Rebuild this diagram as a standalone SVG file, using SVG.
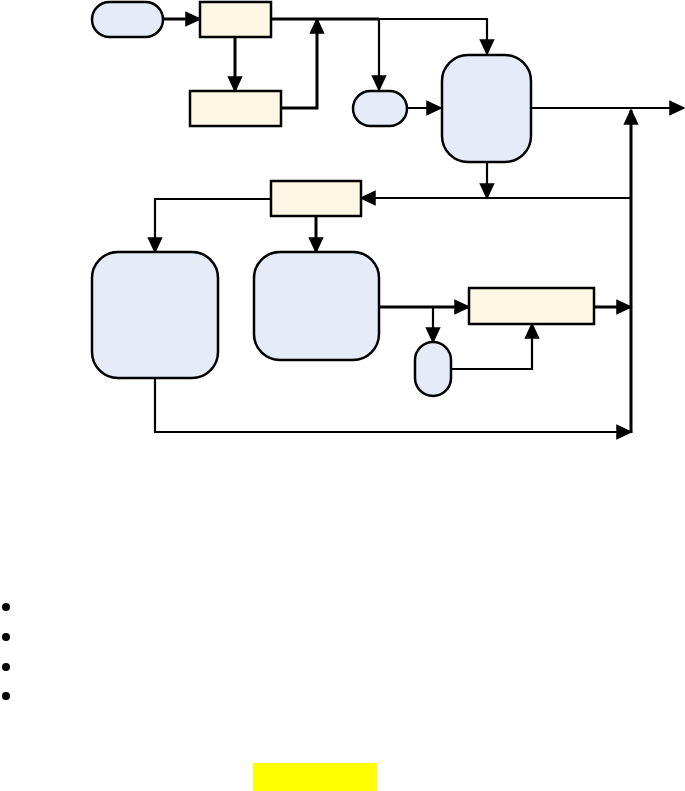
<svg xmlns="http://www.w3.org/2000/svg" width="685" height="791" viewBox="0 0 685 791">
<defs>
<style>
.b{fill:#E5ECF7;stroke:#000;stroke-width:2.5}
.y{fill:#FEF7E3;stroke:#000;stroke-width:2.5}
.c{fill:none;stroke:#000;stroke-width:3}
.t{fill:none;stroke:#000;stroke-width:2.2}
</style>
<marker id="a" markerUnits="userSpaceOnUse" markerWidth="16" markerHeight="16" viewBox="0 0 16 16" refX="15" refY="8" orient="auto" overflow="visible">
<path d="M1,1.5 L15,8 L1,14.5 Z" fill="#000" stroke="#000" stroke-width="1.5" stroke-linejoin="miter"/>
</marker>
</defs>
<g id="connectors">
<path class="c" d="M163,19 H200" marker-end="url(#a)"/>
<path class="c" d="M235,37 V91" marker-end="url(#a)"/>
<path class="c" d="M282,108 H317 V19" marker-end="url(#a)"/>
<path class="c" d="M271,19 H379"/>
<path class="t" d="M379,19 H487 V54" marker-end="url(#a)"/>
<path class="t" d="M379,19 V90" marker-end="url(#a)"/>
<path class="t" d="M407,108 H441" marker-end="url(#a)"/>
<path class="t" d="M532,108 H684" marker-end="url(#a)"/>
<path class="c" d="M631,433 V110" marker-end="url(#a)"/>
<path class="t" d="M487,163 V198" marker-end="url(#a)"/>
<path class="t" d="M631,198 H361" marker-end="url(#a)"/>
<path class="t" d="M271,199 H155 V252" marker-end="url(#a)"/>
<path class="c" d="M316,216 V252" marker-end="url(#a)"/>
<path class="c" d="M379,307 H433"/>
<path class="c" d="M433,307 H469" marker-end="url(#a)"/>
<path class="t" d="M433,307 V342" marker-end="url(#a)"/>
<path class="t" d="M451,369 H532 V324" marker-end="url(#a)"/>
<path class="c" d="M594,307 H631" marker-end="url(#a)"/>
<path class="t" d="M155,379 V432 H631" marker-end="url(#a)"/>
</g>
<g id="n1"><rect class="b" x="92" y="2" width="71" height="35" rx="17.5"/></g>
<g id="n2"><rect class="y" x="200" y="2" width="71" height="35"/></g>
<g id="n3"><rect class="y" x="190" y="91" width="91" height="35"/></g>
<g id="n4"><rect class="b" x="353" y="91" width="54" height="35" rx="17.5"/></g>
<g id="n5"><rect class="b" x="442" y="55" width="89" height="107" rx="26"/></g>
<g id="n6"><rect class="y" x="271" y="181" width="90" height="35"/></g>
<g id="n7"><rect class="b" x="92" y="252" width="126" height="126" rx="26"/></g>
<g id="n8"><rect class="b" x="254" y="252" width="125" height="108" rx="26"/></g>
<g id="n9"><rect class="y" x="469" y="288" width="125" height="36"/></g>
<g id="n10"><rect class="b" x="415" y="342" width="36" height="54" rx="18"/></g>
<g id="bullets">
<circle cx="6" cy="607" r="4"/>
<circle cx="6" cy="637" r="4"/>
<circle cx="6" cy="667" r="4"/>
<circle cx="6" cy="696" r="4"/>
</g>
<rect x="253" y="763" width="124" height="28" fill="#FFFF00"/>
</svg>
